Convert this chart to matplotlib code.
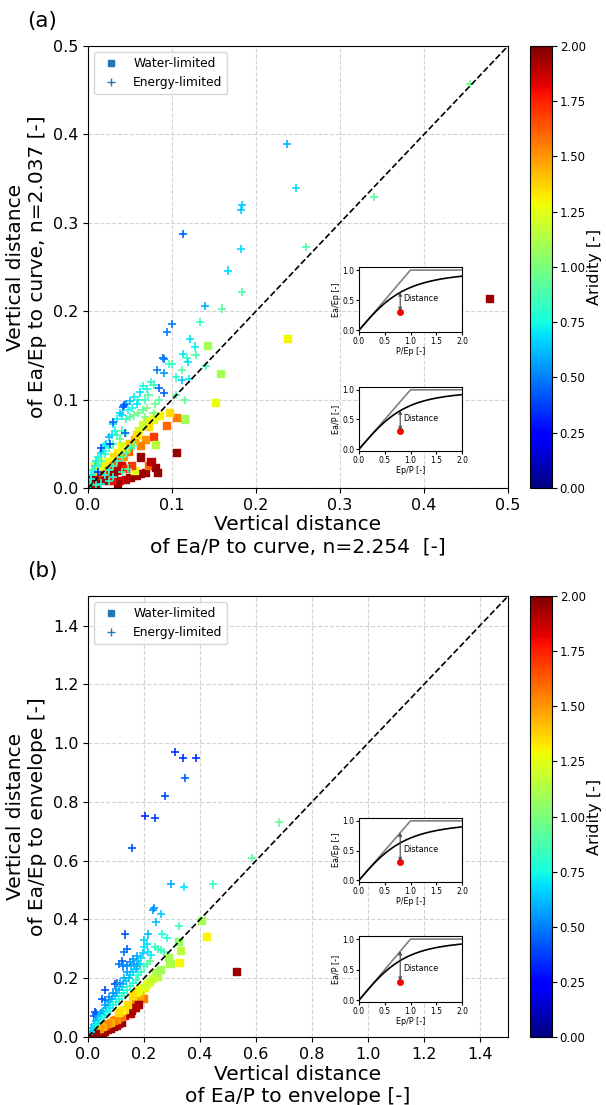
import matplotlib.pyplot as plt
import numpy as np
from matplotlib.lines import Line2D

# panel (a): vertical distance to Fu curve, (x, y, aridity)
a_water = [
    (0.478, 0.214, 1.95), (0.238, 0.169, 1.30), (0.142, 0.161, 1.10), (0.158, 0.129, 1.10),
    (0.152, 0.097, 1.28), (0.115, 0.078, 1.10), (0.105, 0.080, 1.55), (0.094, 0.071, 1.60),
    (0.097, 0.085, 1.35), (0.085, 0.082, 1.30), (0.078, 0.078, 1.25), (0.070, 0.075, 1.30),
    (0.072, 0.070, 1.35), (0.065, 0.072, 1.20), (0.078, 0.058, 1.70), (0.080, 0.049, 1.15),
    (0.068, 0.055, 1.50), (0.062, 0.048, 1.55), (0.105, 0.040, 1.95), (0.062, 0.035, 1.95),
    (0.048, 0.041, 1.60), (0.042, 0.036, 1.50), (0.055, 0.055, 1.45), (0.050, 0.050, 1.40),
    (0.045, 0.045, 1.35), (0.040, 0.048, 1.25), (0.035, 0.040, 1.30), (0.030, 0.035, 1.35),
    (0.025, 0.030, 1.28), (0.020, 0.025, 1.30), (0.015, 0.020, 1.25), (0.010, 0.015, 1.30),
    (0.035, 0.030, 1.55), (0.030, 0.025, 1.60), (0.025, 0.020, 1.65), (0.020, 0.015, 1.70),
    (0.015, 0.012, 1.75), (0.040, 0.025, 1.85), (0.035, 0.020, 1.90), (0.030, 0.015, 1.95),
    (0.025, 0.010, 1.92), (0.020, 0.008, 1.95), (0.010, 0.005, 1.95), (0.004, 0.005, 1.95),
    (0.005, 0.010, 1.95), (0.068, 0.018, 1.95), (0.062, 0.016, 1.95), (0.058, 0.014, 1.95),
    (0.072, 0.025, 1.60), (0.080, 0.023, 1.95), (0.083, 0.017, 1.95), (0.075, 0.030, 1.90),
    (0.050, 0.012, 1.95), (0.045, 0.010, 1.90), (0.038, 0.008, 1.85), (0.035, 0.005, 1.95),
    (0.028, 0.008, 1.80), (0.055, 0.020, 1.25), (0.052, 0.025, 1.70), (0.045, 0.022, 1.75),
    (0.060, 0.065, 1.20), (0.058, 0.060, 1.35), (0.008, 0.025, 1.30), (0.012, 0.030, 1.25),
]
a_energy = [
    (0.455, 0.457, 0.95), (0.237, 0.389, 0.60), (0.248, 0.339, 0.70), (0.183, 0.320, 0.65),
    (0.182, 0.314, 0.65), (0.340, 0.329, 0.92), (0.113, 0.287, 0.45), (0.182, 0.270, 0.68),
    (0.259, 0.273, 0.88), (0.167, 0.246, 0.68), (0.183, 0.222, 0.90), (0.160, 0.203, 0.92),
    (0.139, 0.206, 0.60), (0.133, 0.188, 0.82), (0.100, 0.185, 0.50), (0.094, 0.176, 0.50),
    (0.121, 0.169, 0.70), (0.127, 0.160, 0.72), (0.113, 0.152, 0.70), (0.118, 0.147, 0.85),
    (0.128, 0.150, 0.88), (0.141, 0.138, 0.85), (0.119, 0.143, 0.70), (0.089, 0.147, 0.45),
    (0.091, 0.146, 0.50), (0.097, 0.140, 0.85), (0.100, 0.140, 0.82), (0.082, 0.133, 0.50),
    (0.090, 0.130, 0.55), (0.112, 0.133, 0.90), (0.112, 0.122, 0.65), (0.120, 0.123, 0.72),
    (0.115, 0.100, 0.92), (0.105, 0.125, 0.80),
    (0.075, 0.120, 0.80), (0.078, 0.117, 0.85), (0.070, 0.112, 0.78), (0.072, 0.105, 0.90),
    (0.065, 0.115, 0.75), (0.062, 0.108, 0.70), (0.068, 0.100, 0.85), (0.060, 0.100, 0.80),
    (0.058, 0.095, 0.70), (0.055, 0.103, 0.72), (0.050, 0.098, 0.65), (0.052, 0.090, 0.78),
    (0.048, 0.088, 0.75), (0.045, 0.095, 0.55), (0.042, 0.092, 0.45), (0.040, 0.082, 0.70),
    (0.038, 0.085, 0.65), (0.035, 0.078, 0.72), (0.045, 0.078, 0.85), (0.050, 0.080, 0.90),
    (0.055, 0.082, 0.95), (0.060, 0.085, 0.98), (0.065, 0.088, 0.92), (0.070, 0.090, 1.00),
    (0.080, 0.095, 0.95), (0.085, 0.100, 0.90), (0.078, 0.085, 0.98), (0.068, 0.080, 1.00),
    (0.030, 0.072, 0.68), (0.032, 0.065, 0.75), (0.028, 0.060, 0.70), (0.025, 0.058, 0.62),
    (0.022, 0.050, 0.68), (0.020, 0.048, 0.72), (0.018, 0.042, 0.70), (0.015, 0.040, 0.65),
    (0.012, 0.035, 0.75), (0.010, 0.030, 0.72), (0.008, 0.025, 0.70), (0.006, 0.020, 0.75),
    (0.004, 0.015, 0.72), (0.003, 0.010, 0.75), (0.002, 0.005, 0.80),
    (0.035, 0.060, 0.85), (0.040, 0.065, 0.90), (0.045, 0.062, 0.92), (0.038, 0.055, 0.95),
    (0.030, 0.050, 0.88), (0.025, 0.045, 0.85), (0.020, 0.038, 0.80), (0.015, 0.030, 0.85),
    (0.012, 0.025, 0.82), (0.008, 0.018, 0.85),
    (0.043, 0.094, 0.42), (0.030, 0.075, 0.45), (0.016, 0.045, 0.40), (0.026, 0.050, 0.40),
    (0.012, 0.018, 0.35), (0.044, 0.062, 0.45), (0.084, 0.113, 0.45), (0.090, 0.107, 0.45),
    (0.105, 0.105, 0.90),
    (0.020, 0.015, 0.80), (0.025, 0.020, 0.75), (0.030, 0.025, 0.85), (0.035, 0.030, 0.80),
    (0.040, 0.035, 0.88), (0.045, 0.040, 0.85), (0.050, 0.045, 0.80), (0.055, 0.048, 0.90),
    (0.030, 0.012, 0.78), (0.025, 0.008, 0.80), (0.015, 0.005, 0.75), (0.010, 0.003, 0.82),
    (0.040, 0.018, 0.85), (0.048, 0.022, 0.88),
]

# panel (b): vertical distance to envelope, (x, y, aridity)
b_water = [
    (0.406, 0.398, 1.10), (0.424, 0.341, 1.30), (0.531, 0.222, 1.95), (0.326, 0.253, 1.30),
    (0.332, 0.294, 1.15), (0.323, 0.324, 1.05), (0.293, 0.250, 1.12), (0.287, 0.270, 1.10),
    (0.249, 0.205, 1.15), (0.260, 0.230, 1.08), (0.240, 0.220, 1.10), (0.230, 0.200, 1.20),
    (0.220, 0.190, 1.15), (0.210, 0.180, 1.25), (0.200, 0.170, 1.20), (0.190, 0.150, 1.30),
    (0.198, 0.131, 1.55), (0.185, 0.140, 1.45), (0.170, 0.120, 1.50), (0.160, 0.110, 1.55),
    (0.165, 0.100, 1.65), (0.150, 0.095, 1.70), (0.140, 0.080, 1.75), (0.130, 0.075, 1.80),
    (0.150, 0.080, 1.90), (0.155, 0.090, 1.95), (0.180, 0.110, 1.95), (0.170, 0.100, 1.90),
    (0.120, 0.050, 1.95), (0.110, 0.045, 1.95), (0.100, 0.040, 1.92), (0.090, 0.035, 1.95),
    (0.080, 0.030, 1.95), (0.070, 0.025, 1.90), (0.060, 0.020, 1.95), (0.050, 0.015, 1.95),
    (0.040, 0.010, 1.95), (0.030, 0.008, 1.95), (0.020, 0.005, 1.95), (0.010, 0.003, 1.95),
    (0.120, 0.070, 1.55), (0.110, 0.065, 1.60), (0.100, 0.060, 1.50), (0.090, 0.055, 1.55),
    (0.080, 0.050, 1.45), (0.070, 0.045, 1.50), (0.060, 0.040, 1.55), (0.050, 0.035, 1.45),
    (0.040, 0.030, 1.50), (0.030, 0.025, 1.45), (0.020, 0.015, 1.55), (0.130, 0.095, 1.35),
    (0.120, 0.090, 1.30), (0.110, 0.085, 1.35), (0.140, 0.110, 1.35), (0.180, 0.160, 1.25),
    (0.170, 0.150, 1.30), (0.160, 0.140, 1.35), (0.005, 0.002, 1.95), (0.015, 0.008, 1.90),
    (0.025, 0.012, 1.95),
]
b_energy = [
    (0.310, 0.970, 0.35), (0.340, 0.950, 0.35), (0.385, 0.950, 0.35), (0.345, 0.880, 0.45),
    (0.275, 0.821, 0.40), (0.204, 0.753, 0.35), (0.239, 0.746, 0.38), (0.156, 0.642, 0.40),
    (0.682, 0.730, 0.95), (0.585, 0.608, 0.92), (0.295, 0.520, 0.58), (0.344, 0.511, 0.70),
    (0.448, 0.519, 0.85), (0.236, 0.438, 0.55), (0.232, 0.432, 0.55), (0.260, 0.418, 0.65),
    (0.243, 0.392, 0.62), (0.325, 0.379, 0.85), (0.132, 0.349, 0.42), (0.213, 0.349, 0.62),
    (0.265, 0.350, 0.75), (0.283, 0.337, 0.80), (0.200, 0.330, 0.65), (0.210, 0.315, 0.68),
    (0.200, 0.305, 0.70), (0.240, 0.305, 0.80), (0.250, 0.300, 0.85), (0.260, 0.295, 0.82),
    (0.270, 0.290, 0.88), (0.138, 0.300, 0.45), (0.130, 0.290, 0.48), (0.120, 0.260, 0.45),
    (0.110, 0.250, 0.48), (0.125, 0.240, 0.50), (0.096, 0.180, 0.40), (0.105, 0.185, 0.45),
    (0.061, 0.160, 0.40), (0.050, 0.130, 0.42), (0.060, 0.125, 0.45), (0.025, 0.086, 0.40),
    (0.030, 0.080, 0.42), (0.020, 0.070, 0.45),
    (0.180, 0.260, 0.62), (0.185, 0.250, 0.65), (0.190, 0.270, 0.68), (0.175, 0.240, 0.60),
    (0.170, 0.230, 0.62), (0.165, 0.250, 0.58), (0.160, 0.220, 0.65), (0.155, 0.240, 0.60),
    (0.150, 0.210, 0.68), (0.145, 0.200, 0.62), (0.140, 0.220, 0.58), (0.135, 0.190, 0.65),
    (0.130, 0.200, 0.60), (0.125, 0.180, 0.62), (0.120, 0.170, 0.68), (0.115, 0.185, 0.55),
    (0.110, 0.160, 0.62), (0.105, 0.150, 0.65), (0.100, 0.165, 0.58), (0.095, 0.140, 0.62),
    (0.090, 0.150, 0.55), (0.085, 0.130, 0.60), (0.080, 0.120, 0.65), (0.075, 0.135, 0.55),
    (0.070, 0.110, 0.62), (0.065, 0.100, 0.65), (0.060, 0.110, 0.58), (0.055, 0.090, 0.62),
    (0.050, 0.085, 0.65), (0.045, 0.080, 0.60), (0.040, 0.070, 0.62), (0.035, 0.060, 0.65),
    (0.030, 0.055, 0.60), (0.025, 0.045, 0.62), (0.020, 0.040, 0.65), (0.015, 0.030, 0.62),
    (0.010, 0.020, 0.65), (0.005, 0.010, 0.68),
    (0.200, 0.240, 0.85), (0.210, 0.250, 0.88), (0.220, 0.260, 0.90), (0.190, 0.220, 0.82),
    (0.180, 0.210, 0.80), (0.170, 0.195, 0.85), (0.160, 0.185, 0.78), (0.150, 0.175, 0.80),
    (0.140, 0.160, 0.82), (0.130, 0.150, 0.78), (0.120, 0.140, 0.80), (0.110, 0.130, 0.75),
    (0.100, 0.120, 0.78), (0.090, 0.110, 0.75), (0.080, 0.100, 0.72), (0.070, 0.085, 0.75),
    (0.060, 0.075, 0.72), (0.050, 0.065, 0.75), (0.040, 0.050, 0.72), (0.030, 0.040, 0.75),
    (0.020, 0.028, 0.72), (0.225, 0.280, 0.72), (0.215, 0.290, 0.70), (0.195, 0.285, 0.66),
    (0.175, 0.275, 0.60), (0.160, 0.265, 0.55), (0.150, 0.255, 0.55), (0.140, 0.245, 0.52),
]

n_ep = 2.037   # shape parameter, Ea/Ep curve
n_p = 2.254    # shape parameter, Ea/P curve
cb_ticks = [0.0, 0.25, 0.5, 0.75, 1.0, 1.25, 1.5, 1.75, 2.0]


def fu_curve(x, n):
    # Fu type curve used in the schematic insets
    return x / (1 + x ** n) ** (1 / n)


def draw_inset(rect, n, to_envelope, xlab, ylab):
    ins = fig.add_axes(rect)
    xx = np.linspace(0, 2, 200)
    ins.plot([0, 1, 2], [0, 1, 1], color='grey', lw=1.2)
    ins.plot(xx, fu_curve(xx, n), color='black', lw=1.2)
    top = 0.8 if to_envelope else fu_curve(0.8, n)
    ins.annotate('', xy=(0.8, top), xytext=(0.8, 0.32),
                 arrowprops=dict(arrowstyle='<->', color='0.25', lw=0.8, mutation_scale=5,
                                 shrinkA=0, shrinkB=0))
    ins.plot(0.8, 0.3, 'o', color='red', ms=4)
    ins.text(0.85, 0.52, 'Distance', fontsize=5.8, va='center')
    ins.set_xlim(0, 2)
    ins.set_ylim(-0.03, 1.05)
    ins.set_xticks([0, 0.5, 1.0, 1.5, 2.0])
    ins.set_yticks([0, 0.5, 1.0])
    ins.tick_params(labelsize=5.5, length=2, pad=1.5)
    ins.set_xlabel(xlab, fontsize=5.8, labelpad=1)
    ins.set_ylabel(ylab, fontsize=5.8, labelpad=1)


def draw_panel(ax, cax, water, energy, lim, ticks, xlab, ylab):
    w = np.array(water).T
    e = np.array(energy).T
    ax.grid(True, ls='--', color='lightgrey', lw=0.8)
    ax.set_axisbelow(True)
    sc = ax.scatter(w[0], w[1], c=w[2], cmap='jet', vmin=0, vmax=2, marker='s', s=26)
    ax.scatter(e[0], e[1], c=e[2], cmap='jet', vmin=0, vmax=2, marker='+', s=34, lw=1.2)
    ax.plot([0, lim], [0, lim], 'k--', lw=1.2)
    ax.set_xlim(0, lim)
    ax.set_ylim(0, lim)
    ax.set_xticks(ticks)
    ax.set_yticks(ticks)
    ax.tick_params(labelsize=11.5)
    ax.set_xlabel(xlab, fontsize=14.5, labelpad=2)
    ax.set_ylabel(ylab, fontsize=14.5, labelpad=4)
    handles = [Line2D([], [], ls='', marker='s', color='C0', ms=5),
               Line2D([], [], ls='', marker='+', color='C0', ms=6)]
    ax.legend(handles, ['Water-limited', 'Energy-limited'], loc='upper left', fontsize=8.8)
    cb = fig.colorbar(sc, cax=cax, ticks=cb_ticks)
    cb.ax.set_yticklabels(['%.2f' % t for t in cb_ticks])
    cb.ax.tick_params(labelsize=8.5, pad=2)
    cb.set_label('Aridity [-]', fontsize=11.5, labelpad=1)


fig = plt.figure(figsize=(6.06, 11.05), dpi=100)

ax_a = fig.add_axes([0.1452, 0.5584, 0.6931, 0.4])
cax_a = fig.add_axes([0.8746, 0.5584, 0.0363, 0.4])
draw_panel(ax_a, cax_a, a_water, a_energy, 0.5, [0, 0.1, 0.2, 0.3, 0.4, 0.5],
           'Vertical distance\nof Ea/P to curve, n=2.254  [-]',
           'Vertical distance\nof Ea/Ep to curve, n=2.037 [-]')
draw_inset([0.5924, 0.6995, 0.170, 0.0588], n_ep, False, 'P/Ep [-]', 'Ea/Ep [-]')
draw_inset([0.5924, 0.5919, 0.170, 0.058], n_p, False, 'Ep/P [-]', 'Ea/P [-]')
fig.text(27 / 606, 1 - 21 / 1105, '(a)', fontsize=15.5, va='center')

ax_b = fig.add_axes([0.1452, 0.0615, 0.6931, 0.399])
cax_b = fig.add_axes([0.8746, 0.0615, 0.0363, 0.399])
draw_panel(ax_b, cax_b, b_water, b_energy, 1.5, [0, 0.2, 0.4, 0.6, 0.8, 1.0, 1.2, 1.4],
           'Vertical distance\nof Ea/P to envelope [-]',
           'Vertical distance\nof Ea/Ep to envelope [-]')
draw_inset([0.5924, 0.2018, 0.170, 0.058], n_ep, True, 'P/Ep [-]', 'Ea/Ep [-]')
draw_inset([0.5924, 0.0932, 0.170, 0.0597], n_p, True, 'Ep/P [-]', 'Ea/P [-]')
fig.text(27 / 606, 1 - 571 / 1105, '(b)', fontsize=15.5, va='center')

fig.savefig('out.png', dpi=100)
